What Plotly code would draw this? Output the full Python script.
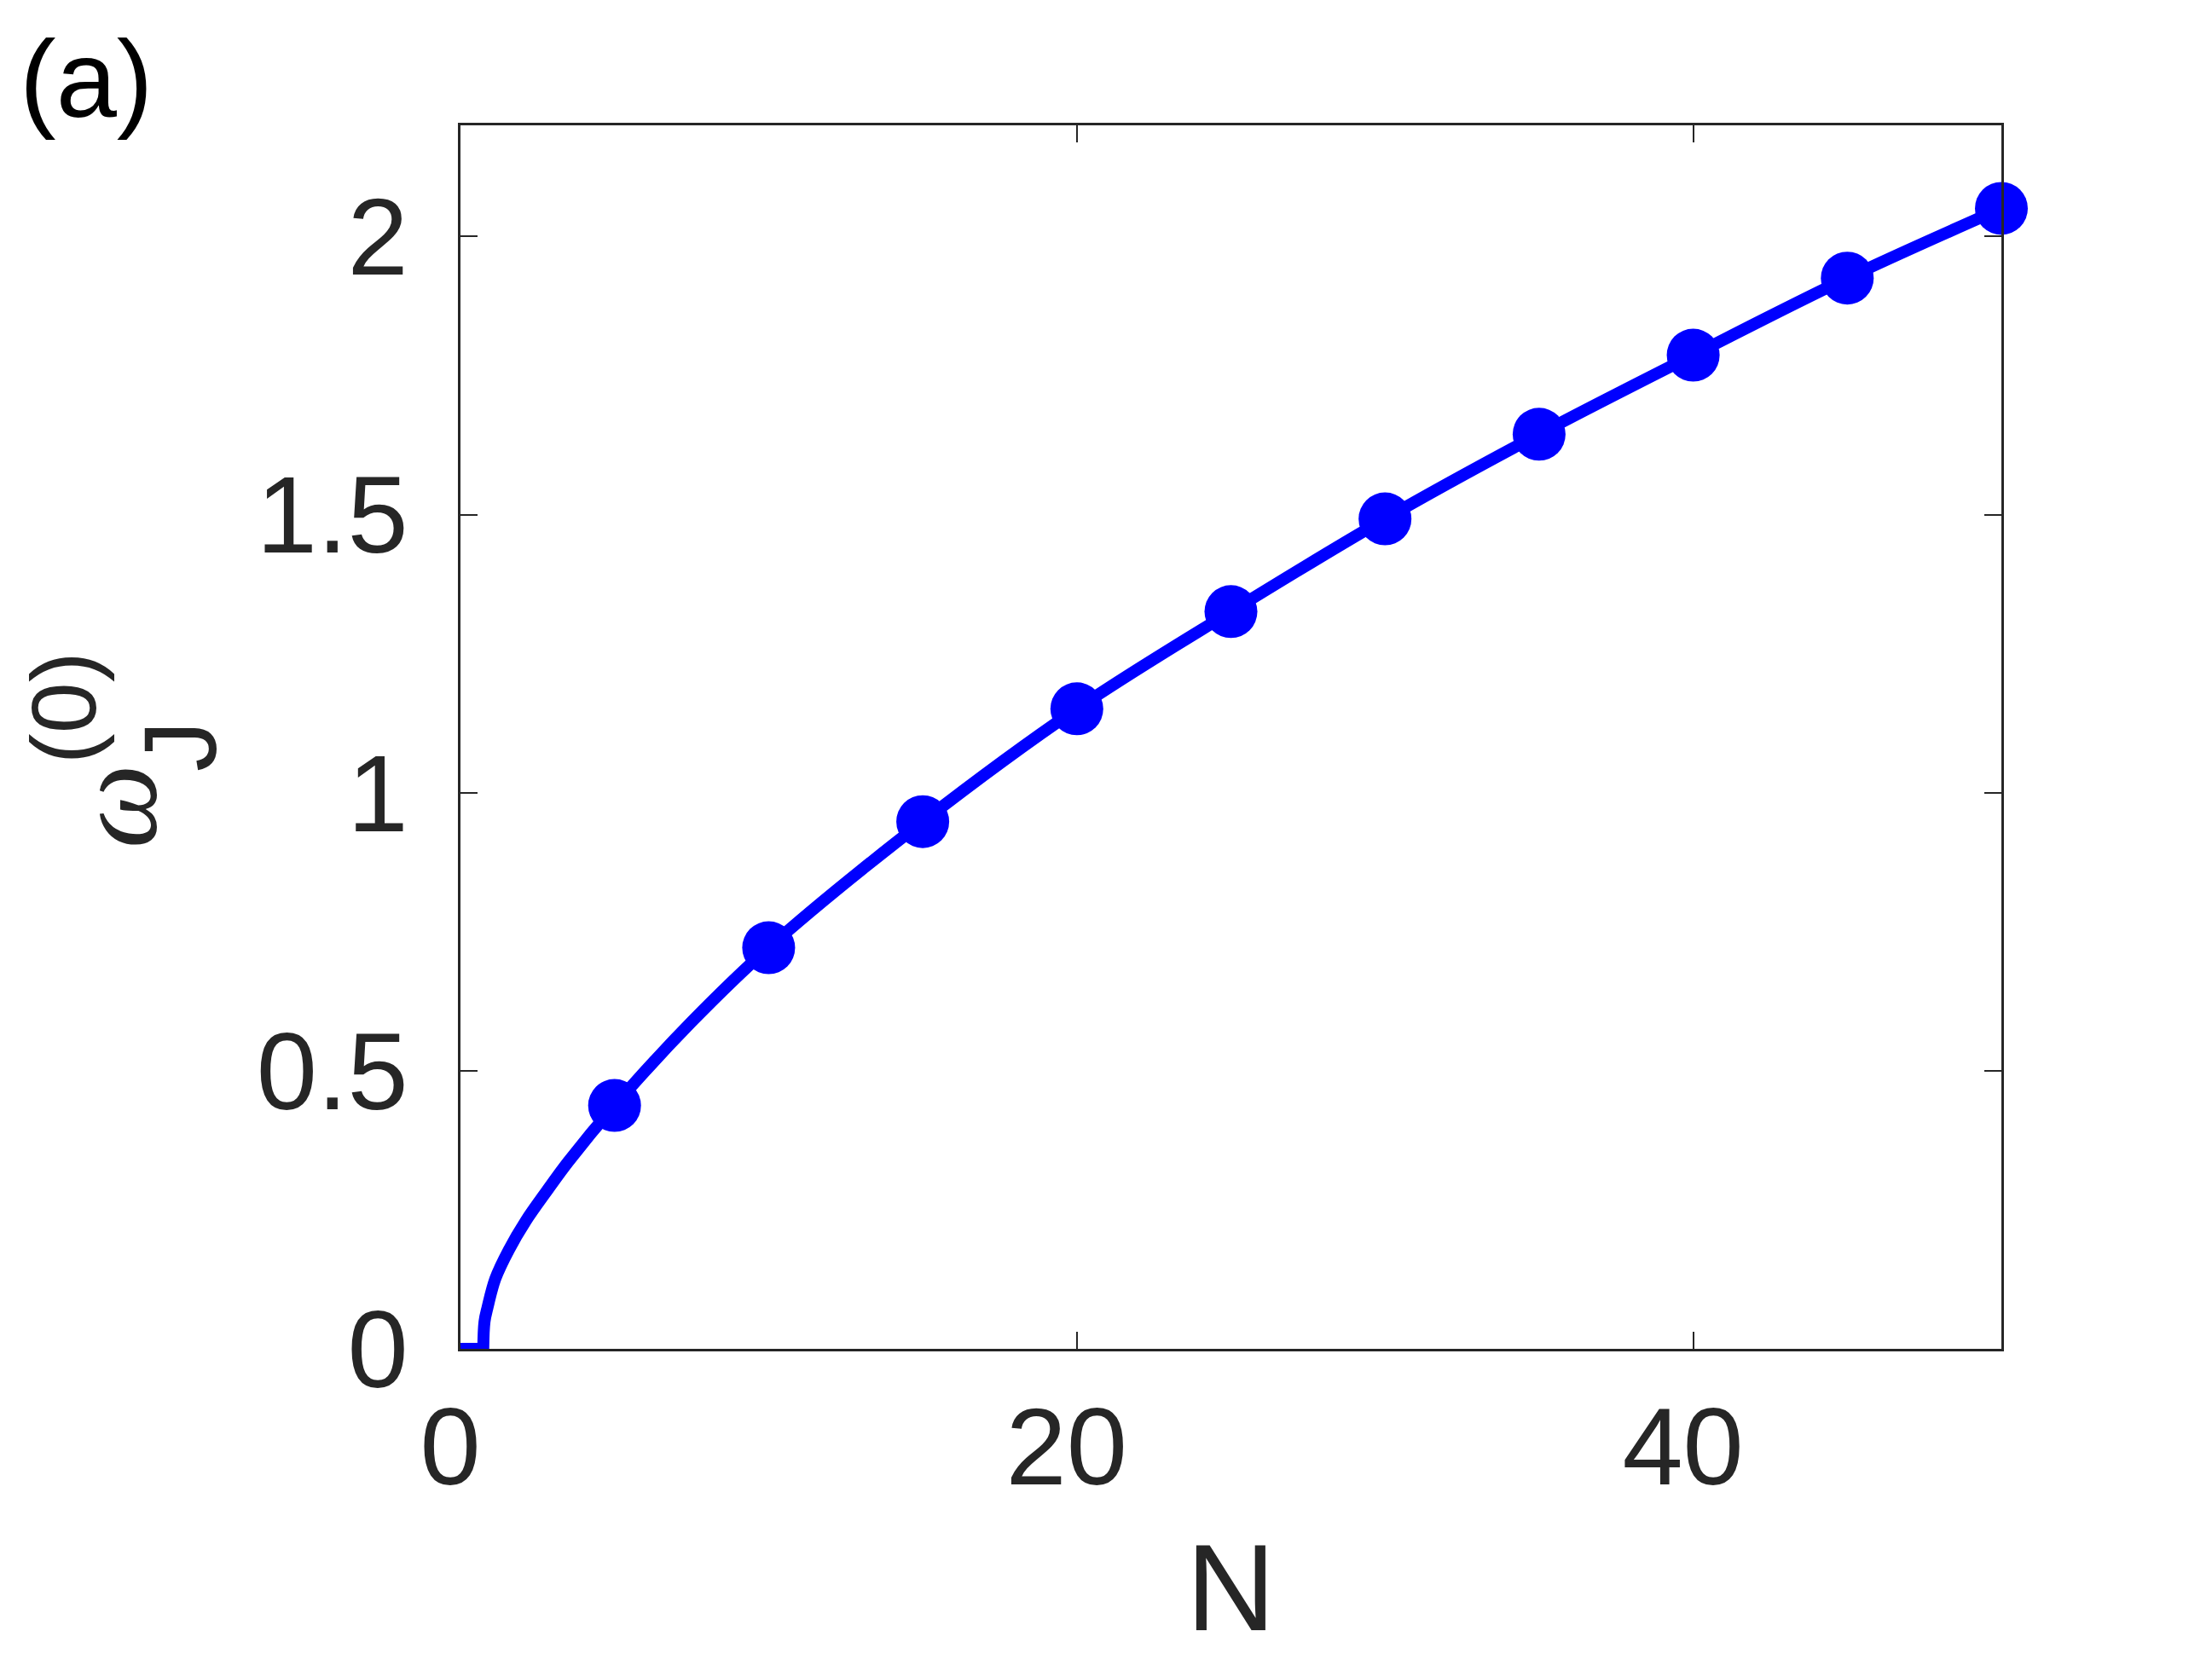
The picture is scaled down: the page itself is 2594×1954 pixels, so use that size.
import plotly.graph_objects as go

# values
N_markers = [5, 10, 15, 20, 25, 30, 35, 40, 45, 50]
omega_markers = [0.4376, 0.7213, 0.948, 1.1508, 1.3256, 1.4923, 1.6446, 1.7868, 1.9253, 2.0506]

# flat part of the curve before the onset
N_flat = [0, 0.74]
omega_flat = [0, 0]

# rising part of the curve (onset region, then through the markers)
N_rise = [0.74, 0.78, 0.88, 1.13, 1.57, 2.12, 2.79, 3.49, 5, 7.5, 10, 15, 20, 25, 30, 35, 40, 45, 50]
omega_rise = [0, 0.049, 0.075, 0.126, 0.178, 0.230, 0.283, 0.336, 0.4376, 0.588, 0.7213,
              0.948, 1.1508, 1.3256, 1.4923, 1.6446, 1.7868, 1.9253, 2.0506]

x_ticks = [0, 20, 40]
y_ticks = [0, 0.5, 1, 1.5, 2]
y_tick_text = ["0", "0.5", "1", "1.5", "2"]

BLUE = "#0000FF"
AXIS = "#262626"
SANS = "Liberation Sans, Arial, Helvetica, sans-serif"
SERIF = "Liberation Serif, Times New Roman, serif"

fig = go.Figure()

fig.add_trace(go.Scatter(
    x=N_flat, y=omega_flat, mode="lines",
    line=dict(color=BLUE, width=14), showlegend=False,
))
fig.add_trace(go.Scatter(
    x=N_rise, y=omega_rise, mode="lines",
    line=dict(color=BLUE, width=14, shape="spline", smoothing=1.0),
    showlegend=False,
))
fig.add_trace(go.Scatter(
    x=N_markers, y=omega_markers, mode="markers",
    marker=dict(color=BLUE, size=62, line=dict(width=0)),
    cliponaxis=False, showlegend=False,
))

axis_common = dict(
    showline=True, linecolor=AXIS, linewidth=2.5, mirror="ticks",
    ticks="inside", ticklen=20, tickwidth=2, tickcolor=AXIS,
    showgrid=False, zeroline=False,
    tickfont=dict(family=SANS, size=128, color=AXIS),
)

fig.update_xaxes(range=[0, 50], tickvals=x_ticks, ticklabelstandoff=3,
                 ticklabelshift=-12, **axis_common)
fig.update_yaxes(range=[0, 2.2], tickvals=y_ticks, ticktext=y_tick_text,
                 ticklabelstandoff=33, **axis_common)

annotations = [
    dict(text="N", x=0.5, y=-0.195, font=dict(family=SANS, size=145, color=AXIS)),
    dict(text="(a)", x=-0.243, y=1.038, font=dict(family=SANS, size=128, color="black")),
    dict(text="<i>ω</i>", x=-0.2241, y=0.443, textangle=-90,
         font=dict(family=SERIF, size=140, color=AXIS)),
    dict(text="(0)", x=-0.2578, y=0.524, textangle=-90,
         font=dict(family=SANS, size=108, color=AXIS)),
    dict(text="J", x=-0.1821, y=0.4927, textangle=-90,
         font=dict(family=SANS, size=120, color=AXIS)),
]
for a in annotations:
    a.update(xref="paper", yref="paper", showarrow=False,
             xanchor="center", yanchor="middle")

# page body adds an 8 px offset, so margins are shifted to compensate
fig.update_layout(
    width=2594, height=1954,
    margin=dict(l=532, r=255, t=139, b=380),
    paper_bgcolor="white", plot_bgcolor="white",
    annotations=annotations,
)

fig.write_html("out.html")
